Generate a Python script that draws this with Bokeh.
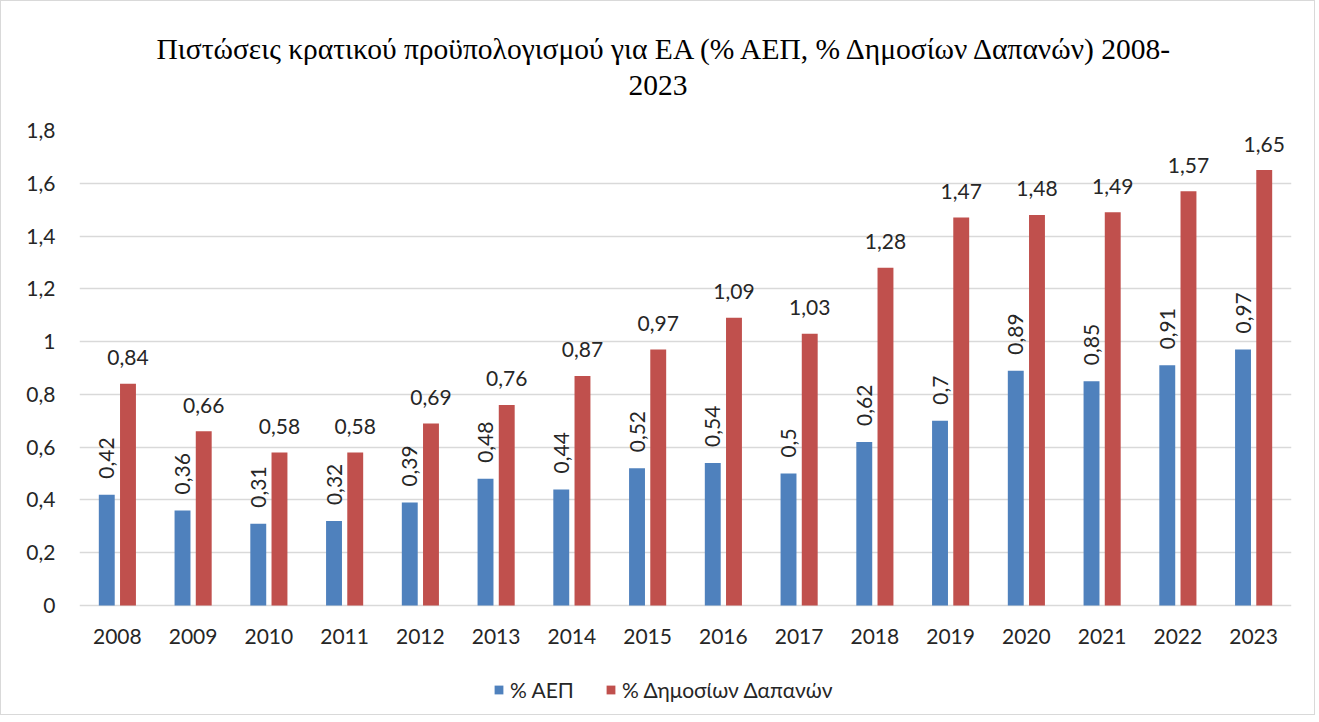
import math
from bokeh.plotting import figure
from bokeh.models import (ColumnDataSource, FactorRange, Range1d, Legend, LegendItem,
                          CustomJSTickFormatter)
from bokeh.transform import dodge
from bokeh.core.properties import value
from bokeh.embed import file_html
from bokeh.resources import INLINE

years = [str(y) for y in range(2008, 2024)]
gdp_pct = [0.42, 0.36, 0.31, 0.32, 0.39, 0.48, 0.44, 0.52, 0.54, 0.5, 0.62, 0.7, 0.89, 0.85, 0.91, 0.97]
spend_pct = [0.84, 0.66, 0.58, 0.58, 0.69, 0.76, 0.87, 0.97, 1.09, 1.03, 1.28, 1.47, 1.48, 1.49, 1.57, 1.65]
series_names = ["% ΑΕΠ", "% Δημοσίων Δαπανών"]
y_ticks = [0, 0.2, 0.4, 0.6, 0.8, 1.0, 1.2, 1.4, 1.6, 1.8]
title_line1 = "Πιστώσεις κρατικού προϋπολογισμού για ΕΑ (% ΑΕΠ, % Δημοσίων Δαπανών) 2008-"
title_line2 = "2023"

BLUE = "#4F81BD"
RED = "#C0504D"
FONT = "Lato"
TXT = "#262626"
FS = "21px"

# layout: plotting band of 475 px for 0..1.8, frame extended below for the legend
PLOT_H = 475
FRAME_H = 584
Y_MAX = 1.8
Y_MIN = -Y_MAX * (FRAME_H - PLOT_H) / PLOT_H


def fmt(v):
    return ("%g" % v).replace(".", ",")


src = ColumnDataSource(dict(
    year=years, gdp=gdp_pct, spend=spend_pct,
    gdp_lbl=[fmt(v) for v in gdp_pct],
    spend_lbl=[fmt(v) for v in spend_pct],
))

p = figure(x_range=FactorRange(factors=years, range_padding=0), y_range=Range1d(Y_MIN, Y_MAX),
           frame_width=1212, frame_height=FRAME_H, output_backend="svg", toolbar_location=None,
           min_border_left=78, min_border_right=23, min_border_top=129, min_border_bottom=0)
p.title.text = title_line1 + "\n" + "\u00a0" * 64 + title_line2
p.title.align = "left"
p.title.offset = 77
p.title.standoff = 58
p.title.text_font = "Liberation Serif"
p.title.text_font_size = "29.5px"
p.title.text_font_style = "normal"
p.title.text_color = "#000000"
p.title.text_line_height = 1.15
p.outline_line_color = None
p.styles = {"border": "1px solid #d9d9d9"}

b1 = p.vbar(x=dodge("year", -0.14, range=p.x_range), top="gdp", bottom=0, width=0.21, source=src,
            fill_color=BLUE, line_color=None)
b2 = p.vbar(x=dodge("year", 0.14, range=p.x_range), top="spend", bottom=0, width=0.21, source=src,
            fill_color=RED, line_color=None)

p.text(x=dodge("year", 0.14, range=p.x_range), y="spend", text="spend_lbl", source=src,
       text_align="center", text_baseline="middle", y_offset=-26,
       text_font=value(FONT), text_font_size=FS, text_color=TXT)
p.text(x=dodge("year", -0.14, range=p.x_range), y="gdp", text="gdp_lbl", source=src,
       angle=math.pi / 2, text_align="left", text_baseline="middle", y_offset=-16,
       text_font=value(FONT), text_font_size=FS, text_color=TXT)

p.xgrid.grid_line_color = None
p.ygrid.grid_line_color = "#d9d9d9"
p.ygrid.grid_line_width = 1.5
p.yaxis.ticker = y_ticks
p.yaxis.formatter = CustomJSTickFormatter(code="return (Math.round(tick*10)/10).toString().replace('.', ',');")
for ax in (p.xaxis, p.yaxis):
    ax.axis_line_color = None
    ax.major_tick_line_color = None
    ax.minor_tick_line_color = None
    ax.major_label_text_font = FONT
    ax.major_label_text_font_size = FS
    ax.major_label_text_color = TXT
p.yaxis.major_label_standoff = 18
p.xaxis.major_label_standoff = 17
p.xaxis.fixed_location = 0

legend = Legend(items=[LegendItem(label=series_names[0], renderers=[b1]),
                       LegendItem(label=series_names[1], renderers=[b2])],
                orientation="horizontal", location=(414, 12),
                glyph_height=11, glyph_width=11, spacing=31, label_standoff=6,
                label_text_font=FONT, label_text_font_size=FS, label_text_color=TXT,
                border_line_color=None, background_fill_alpha=0, padding=0, margin=0)
p.add_layout(legend, "center")

open("out.html", "w").write(file_html(p, INLINE))
